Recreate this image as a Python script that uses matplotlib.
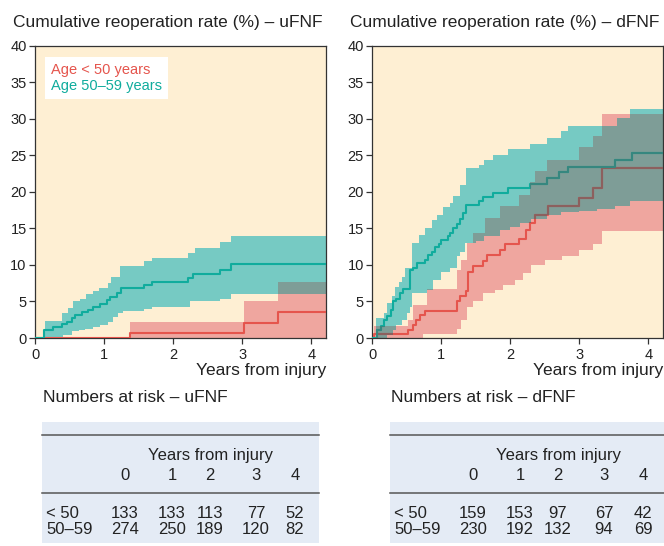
import numpy as np
import matplotlib
matplotlib.use("Agg")
import matplotlib.pyplot as plt
from matplotlib.path import Path
from matplotlib.patches import Rectangle

plt.rcParams["font.family"] = ["Liberation Sans", "DejaVu Sans"]

# ---- data (years, cumulative %) ----
XMAX = 4.21

# uFNF, age < 50
U_Y_T = [0, 1.37, 3.03, 3.52]
U_Y_EST = [0, 0.7, 2.1, 3.6]
U_Y_HI_T = [0, 1.37, 3.03, 3.52]
U_Y_HI = [0, 2.2, 5.0, 7.6]
U_Y_LO_T = [0]
U_Y_LO = [0]

# uFNF, age 50-59
U_O_T = [0, 0.135, 0.265, 0.385, 0.46, 0.53, 0.58, 0.675, 0.77, 0.84, 0.94,
         1.04, 1.085, 1.18, 1.25, 1.57, 1.69, 2.22, 2.28, 2.67, 2.84]
U_O_EST = [0, 1.1, 1.55, 1.9, 2.2, 2.7, 3.15, 3.6, 3.9, 4.3, 4.6,
           5.2, 5.65, 6.1, 6.8, 7.25, 7.7, 8.2, 8.75, 9.3, 10.1]
U_O_HI_T = [0, 0.15, 0.39, 0.48, 0.55, 0.65, 0.74, 0.84, 0.93, 1.05, 1.10,
            1.23, 1.57, 1.69, 2.22, 2.31, 2.67, 2.84]
U_O_HI = [0, 2.3, 3.4, 4.1, 5.0, 5.4, 6.0, 6.4, 6.9, 7.5, 8.4,
          9.8, 10.5, 10.9, 11.6, 12.3, 13.1, 13.9]
U_O_LO_T = [0, 0.40, 0.53, 0.63, 0.72, 0.84, 0.94, 1.06, 1.13, 1.20, 1.28,
            1.57, 1.69, 2.24, 2.67, 2.84]
U_O_LO = [0, 0.4, 0.9, 1.1, 1.3, 1.55, 1.8, 2.2, 2.9, 3.4, 3.7,
          4.0, 4.3, 5.1, 5.4, 6.0]

# dFNF, age < 50
D_Y_T = [0, 0.02, 0.52, 0.59, 0.64, 0.69, 0.76, 1.22, 1.27, 1.36, 1.39, 1.46,
         1.61, 1.66, 1.85, 1.92, 2.12, 2.22, 2.28, 2.36, 2.55, 2.99, 3.20, 3.33]
D_Y_EST = [0, 0.6, 1.1, 1.8, 2.5, 3.2, 3.7, 5.0, 5.7, 6.4, 9.1, 9.8,
           10.5, 11.4, 12.1, 12.9, 13.5, 14.8, 15.7, 16.9, 18.0, 19.2, 20.5, 23.3]
D_Y_HI_T = [0, 0.02, 0.52, 0.59, 0.79, 1.22, 1.29, 1.37, 1.46, 1.63, 1.85,
            2.13, 2.28, 2.36, 2.53, 2.99, 3.20, 3.33]
D_Y_HI = [0, 1.7, 2.5, 4.5, 6.7, 9.3, 10.7, 13.0, 14.4, 16.4, 18.0,
          19.6, 21.4, 22.9, 24.4, 26.2, 27.6, 30.7]
D_Y_LO_T = [0, 0.74, 1.22, 1.29, 1.37, 1.46, 1.60, 1.78, 1.90, 2.07, 2.18,
            2.30, 2.50, 2.75, 3.00, 3.20, 3.33]
D_Y_LO = [0, 0.6, 1.3, 2.5, 4.2, 5.0, 6.1, 6.6, 7.3, 8.0, 8.9,
          10.0, 10.7, 11.2, 12.0, 12.8, 14.7]

# dFNF, age 50-59
D_O_T = [0, 0.063, 0.12, 0.17, 0.22, 0.27, 0.30, 0.35, 0.40, 0.45, 0.55, 0.59,
         0.65, 0.76, 0.81, 0.86, 0.91, 0.96, 1.00, 1.09, 1.13, 1.17, 1.22, 1.27,
         1.32, 1.36, 1.54, 1.61, 1.75, 1.97, 2.28, 2.53, 2.70, 2.83, 3.52, 3.76]
D_O_EST = [0, 1.1, 1.7, 2.5, 3.0, 3.9, 5.0, 5.4, 6.1, 6.7, 9.3, 9.6,
           10.2, 10.7, 11.4, 11.8, 12.4, 12.9, 13.4, 14.0, 14.4, 15.0, 15.6, 16.3,
           17.1, 18.2, 18.7, 19.3, 19.8, 20.5, 21.1, 21.9, 22.7, 23.4, 24.3, 25.3]
D_O_HI_T = [0, 0.06, 0.17, 0.22, 0.28, 0.33, 0.38, 0.43, 0.47, 0.57, 0.67,
            0.76, 0.86, 0.93, 1.03, 1.12, 1.17, 1.27, 1.36, 1.54, 1.62, 1.75,
            1.97, 2.29, 2.53, 2.74, 2.84, 3.54, 3.73]
D_O_HI = [0, 2.7, 3.4, 4.8, 5.7, 7.0, 7.6, 8.4, 9.6, 13.0, 14.1,
          15.0, 16.1, 16.9, 17.9, 18.5, 19.4, 21.0, 23.3, 23.7, 24.4, 25.1,
          25.8, 26.5, 27.4, 28.3, 29.0, 30.1, 31.3]
D_O_LO_T = [0, 0.22, 0.30, 0.35, 0.43, 0.50, 0.55, 0.57, 0.79, 0.88, 1.00,
            1.12, 1.22, 1.27, 1.34, 1.50, 1.62, 1.85, 2.00, 2.14, 2.30, 2.53,
            2.74, 3.00, 3.25, 3.52, 3.73]
D_O_LO = [0, 0.4, 1.1, 1.8, 2.5, 3.4, 4.3, 6.1, 6.6, 7.9, 9.0,
          9.6, 11.2, 11.8, 13.0, 13.3, 14.0, 14.8, 15.2, 15.7, 16.3, 16.8,
          17.2, 17.4, 17.7, 18.0, 18.7]

# numbers at risk
RISK_YEARS = [0, 1, 2, 3, 4]
RISK_GROUPS = ["< 50", "50–59"]
RISK_U_YOUNG = [133, 133, 113, 77, 52]
RISK_U_OLD = [274, 250, 189, 120, 82]
RISK_D_YOUNG = [159, 153, 97, 67, 42]
RISK_D_OLD = [230, 192, 132, 94, 69]

LEGEND_LABELS = ["Age < 50 years", "Age 50–59 years"]

# ---- colours ----
BG = "#FEEFD3"
RED, RED_FILL, RED_DARK = "#E5554D", "#EFA69F", "#8C605E"
TEAL, TEAL_FILL, TEAL_DARK = "#10AC9D", "#76CAC3", "#36877F"
OVERLAP = "#7E9D97"
INK = "#222222"


def step_on(grid, t, v):
    idx = np.searchsorted(t, grid, side="right") - 1
    return np.asarray(v, dtype=float)[idx]


def draw_panel(ax, young, old):
    (yt, yest, yht, yh, ylt, yl) = young
    (ot, oest, oht, oh, olt, ol) = old
    grid = np.unique(np.concatenate([yht, ylt, oht, olt, [XMAX]]))
    y_lo, y_hi = step_on(grid, ylt, yl), step_on(grid, yht, yh)
    o_lo, o_hi = step_on(grid, olt, ol), step_on(grid, oht, oh)
    ax.fill_between(grid, y_lo, np.maximum(y_hi, y_lo), step="post",
                    color=RED_FILL, lw=0, zorder=1)
    ax.fill_between(grid, o_lo, np.maximum(o_hi, o_lo), step="post",
                    color=TEAL_FILL, lw=0, zorder=1.2)
    ov_lo = np.maximum(y_lo, o_lo)
    ov_hi = np.maximum(np.minimum(y_hi, o_hi), ov_lo)
    ov = ax.fill_between(grid, ov_lo, ov_hi, step="post",
                         color=OVERLAP, lw=0, zorder=1.4)
    clip = Path.make_compound_path(*ov.get_paths())

    handles = []
    for t, est, c, cd in ((yt, yest, RED, RED_DARK), (ot, oest, TEAL, TEAL_DARK)):
        tx = np.append(t, XMAX)
        vy = np.append(est, est[-1])
        h, = ax.step(tx, vy, where="post", color=c, lw=1.5, zorder=3)
        d, = ax.step(tx, vy, where="post", color=cd, lw=1.5, zorder=3.1)
        d.set_clip_path(clip, ax.transData)
        handles.append(h)

    ax.set_facecolor(BG)
    ax.set_xlim(0, XMAX)
    ax.set_ylim(0, 40)
    ax.set_xticks([0, 1, 2, 3, 4])
    ax.set_yticks(range(0, 41, 5))
    for s in ax.spines.values():
        s.set_color("#333333")
        s.set_linewidth(0.9)
    ax.tick_params(direction="out", length=4, width=0.9, color="#333333",
                   labelsize=10.5, labelcolor=INK)
    ax.tick_params(axis="y", pad=2)
    ax.tick_params(axis="x", pad=3)
    ax.text(1.0, -0.11, "Years from injury", transform=ax.transAxes,
            ha="right", va="center", fontsize=12.5, color=INK)
    return handles


fig = plt.figure(figsize=(6.64, 5.46), dpi=100)
W, H = 664, 546

ax1 = fig.add_axes([35 / W, 1 - 338 / H, 291 / W, 292.3 / H])
ax2 = fig.add_axes([372.3 / W, 1 - 338 / H, 290.7 / W, 292.3 / H])

hs = draw_panel(ax1, (U_Y_T, U_Y_EST, U_Y_HI_T, U_Y_HI, U_Y_LO_T, U_Y_LO),
                (U_O_T, U_O_EST, U_O_HI_T, U_O_HI, U_O_LO_T, U_O_LO))
draw_panel(ax2, (D_Y_T, D_Y_EST, D_Y_HI_T, D_Y_HI, D_Y_LO_T, D_Y_LO),
           (D_O_T, D_O_EST, D_O_HI_T, D_O_HI, D_O_LO_T, D_O_LO))

leg = ax1.legend(hs, LEGEND_LABELS, loc="upper left",
                 bbox_to_anchor=(0.034, 0.961), handlelength=0,
                 handletextpad=0, labelcolor=[RED, TEAL], fontsize=10.5,
                 frameon=True, fancybox=False, framealpha=1,
                 facecolor="white", edgecolor="none", borderpad=0.4,
                 labelspacing=0.15, borderaxespad=0)
leg.set_zorder(5)

fig.text(12.5 / W, 1 - 22 / H, "Cumulative reoperation rate (%) – uFNF",
         fontsize=12.5, color=INK, va="center", ha="left")
fig.text(350 / W, 1 - 22 / H, "Cumulative reoperation rate (%) – dFNF",
         fontsize=12.5, color=INK, va="center", ha="left")

# ---- numbers-at-risk tables (pixel layout) ----
tab = fig.add_axes([0, 0, 1, 1], zorder=-1)
tab.set_xlim(0, W)
tab.set_ylim(H, 0)
tab.axis("off")

COL_DX = [83, 130, 168, 214, 253]
for x0, width, name, young, old in ((42, 277, "uFNF", RISK_U_YOUNG, RISK_U_OLD),
                                    (390, 274, "dFNF", RISK_D_YOUNG, RISK_D_OLD)):
    tab.text(x0 + 1, 398, "Numbers at risk – " + name, fontsize=12.5,
             color=INK, va="center", ha="left")
    tab.add_patch(Rectangle((x0, 421.7), width, 121.5, facecolor="#E4EBF5",
                            edgecolor="none"))
    for yl in (435, 493):
        tab.plot([x0, x0 + width], [yl, yl], color="#555555", lw=1.1)
    tab.text(x0 + 169, 455.5, "Years from injury", fontsize=12, color=INK,
             ha="center", va="center")
    for dx, yr in zip(COL_DX, RISK_YEARS):
        tab.text(x0 + dx, 475, str(yr), fontsize=12, color=INK,
                 ha="center", va="center")
    for yrow, grp, vals in ((513, RISK_GROUPS[0], young), (530, RISK_GROUPS[1], old)):
        tab.text(x0 + 4.5, yrow, grp, fontsize=12, color=INK,
                 ha="left", va="center")
        for dx, v in zip(COL_DX, vals):
            tab.text(x0 + dx, yrow, str(v), fontsize=12, color=INK,
                     ha="center", va="center")

fig.savefig("out.png", dpi=100)
